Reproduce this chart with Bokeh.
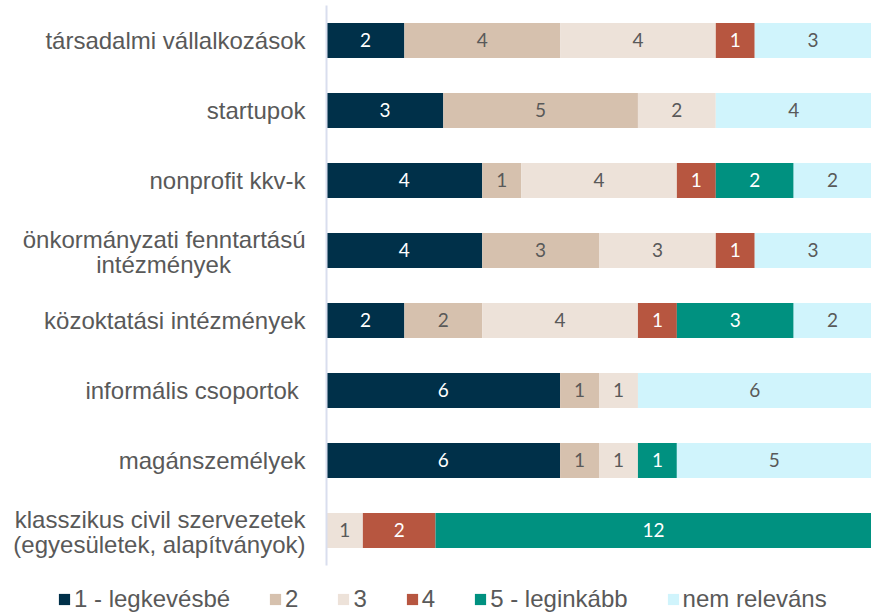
from bokeh.plotting import figure
from bokeh.models import ColumnDataSource, Range1d, Legend, LegendItem
from bokeh.core.properties import value
from bokeh.embed import file_html
from bokeh.resources import INLINE

categories = ["társadalmi vállalkozások", "startupok", "nonprofit kkv-k",
              "önkormányzati fenntartású\nintézmények", "közoktatási intézmények",
              "informális csoportok ", "magánszemélyek",
              "klasszikus civil szervezetek\n(egyesületek, alapítványok)"]
series_names = ["1 - legkevésbé", "2", "3", "4", "5 - leginkább", "nem releváns"]
v1 = [2, 3, 4, 4, 2, 6, 6, 0]
v2 = [4, 5, 1, 3, 2, 1, 1, 0]
v3 = [4, 2, 4, 3, 4, 1, 1, 1]
v4 = [1, 0, 1, 1, 1, 0, 0, 2]
v5 = [0, 0, 2, 0, 3, 0, 1, 12]
vn = [3, 4, 2, 3, 2, 6, 5, 0]
colors = ["#003049", "#D6C1AE", "#EDE2D9", "#B75640", "#009180", "#D0F4FC"]
label_colors = ["#FFFFFF", "#595959", "#595959", "#FFFFFF", "#FFFFFF", "#595959"]

series = [v1, v2, v3, v4, v5, vn]
n = len(categories)
totals = [sum(s[i] for s in series) for i in range(n)]
keys = ["s%d" % k for k in range(len(series))]
data = {"y": list(range(n))}
for k, s in zip(keys, series):
    data[k] = [s[i] / totals[i] * 100 for i in range(n)]
source = ColumnDataSource(data)

# frame covers the whole canvas; the value axis 0..100 occupies x = 326..871 px
p = figure(width=871, height=613, x_range=Range1d(-59.82, 100), y_range=Range1d(8.186, -0.571),
           output_backend="svg", toolbar_location=None,
           min_border_left=0, min_border_right=0, min_border_top=0, min_border_bottom=0)
p.axis.visible = False
p.grid.visible = False
p.outline_line_color = None

renderers = p.hbar_stack(keys, y="y", height=0.5, color=colors, line_color=None, source=source)

# category axis line
p.segment(x0=[0], y0=[-0.5], x1=[0], y1=[n - 0.5], line_color="#D9DEEE", line_width=2)

# category labels
cx, cy, ct, cxo, cyo, ca = [], [], [], [], [], []
for i, cat in enumerate(categories):
    lines = cat.split("\n")
    if len(lines) == 1:
        cx.append(0); cy.append(i); ct.append(lines[0]); cxo.append(-21); cyo.append(0); ca.append("right")
    else:
        cx.append(0); cy.append(i); ct.append(lines[0]); cxo.append(-21); cyo.append(-11); ca.append("right")
        if i == 3:
            cx.append(0); cy.append(i); ct.append(lines[1]); cxo.append(-163); cyo.append(14); ca.append("center")
        else:
            cx.append(0); cy.append(i); ct.append(lines[1]); cxo.append(-21); cyo.append(14); ca.append("right")
csrc = ColumnDataSource(dict(x=cx, y=cy, t=ct, xo=cxo, yo=cyo, a=ca))
p.text(x="x", y="y", text="t", x_offset="xo", y_offset="yo", text_align="a", source=csrc,
       text_baseline="middle", text_font=value("Liberation Sans"), text_font_size="24px",
       text_color="#595959")

# data labels
lx, ly, lt, lc = [], [], [], []
for i in range(n):
    cum = 0.0
    for k, s in enumerate(series):
        w = s[i] / totals[i] * 100
        if s[i] > 0:
            lx.append(cum + w / 2)
            ly.append(i)
            lt.append(str(s[i]))
            lc.append(label_colors[k])
        cum += w
lsrc = ColumnDataSource(dict(x=lx, y=ly, t=lt, c=lc))
p.text(x="x", y="y", text="t", text_color="c", source=lsrc, text_align="center",
       text_baseline="middle", text_font=value("Lato"), text_font_size="19px")

legend = Legend(items=[LegendItem(label=nm, renderers=[r]) for nm, r in zip(series_names, renderers)],
                orientation="horizontal", location=(57, 0), glyph_width=14, glyph_height=14,
                label_standoff=3, label_width=0, spacing=38, padding=0, margin=0,
                border_line_color=None, background_fill_alpha=0, label_text_font="Liberation Sans",
                label_text_font_size="24px", label_text_color="#595959")
p.add_layout(legend, "center")

open("out.html", "w").write(file_html(p, INLINE))
